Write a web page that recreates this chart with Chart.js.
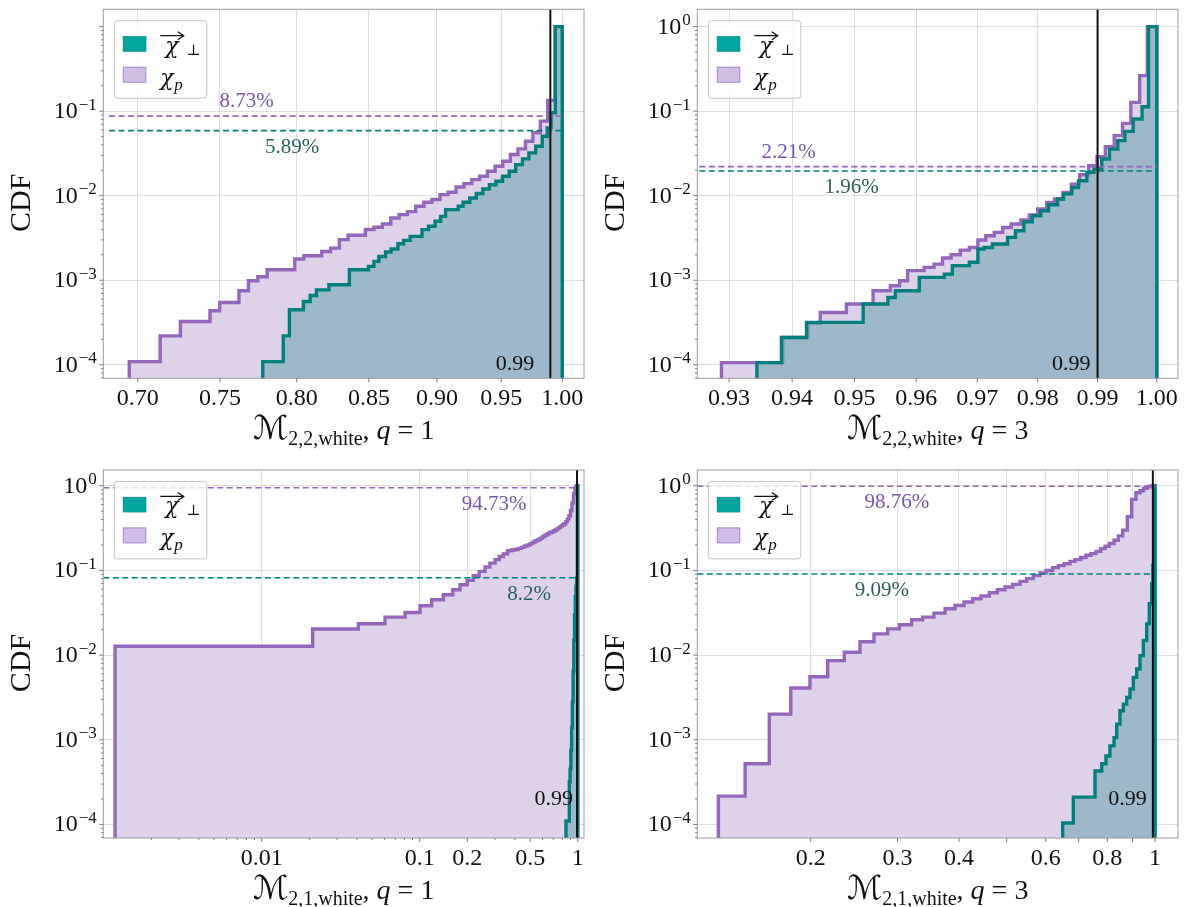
<!DOCTYPE html>
<html>
<head>
<meta charset="utf-8">
<title>Mismatch CDFs</title>
<script src="https://cdn.jsdelivr.net/npm/chart.js@4.4.1/dist/chart.umd.min.js"></script>
<style>
  body { margin: 0; background: #fff; }
  #figure { position: relative; width: 1185px; height: 907px; }
  #figure canvas { position: absolute; left: 0; top: 0; }
</style>
</head>
<body>
<div id="figure">
  <canvas id="m22q1" width="1185" height="907"></canvas>
  <canvas id="m22q3" width="1185" height="907"></canvas>
  <canvas id="m21q1" width="1185" height="907"></canvas>
  <canvas id="m21q3" width="1185" height="907"></canvas>
</div>
<script>
const CUT = 0.99;

// M_{2,2,white}, q = 1  (bin edges where the CDF steps up, last entry = right end)
const edgesPerp22q1 = [0.7775, 0.791, 0.7951, 0.8045, 0.8091, 0.8134, 0.8219, 0.8362, 0.8497, 0.8536, 0.8572, 0.862, 0.866, 0.871, 0.8752, 0.88, 0.8888, 0.8937, 0.8986, 0.9028, 0.9066, 0.9163, 0.92, 0.9252, 0.9303, 0.9354, 0.9406, 0.9458, 0.951, 0.9564, 0.9616, 0.9671, 0.9723, 0.9779, 0.9833, 0.9874, 0.9906, 0.9942, 1.0];
const cdfPerp22q1 = [1.09e-4, 2.2e-4, 4.48e-4, 5.61e-4, 6.6e-4, 7.7e-4, 8.85e-4, 1.33e-3, 1.46e-3, 1.67e-3, 1.91e-3, 2.16e-3, 2.34e-3, 2.7e-3, 2.96e-3, 3.3e-3, 3.97e-3, 4.35e-3, 4.98e-3, 5.7e-3, 6.85e-3, 7.5e-3, 8.35e-3, 9.4e-3, 1.06e-2, 1.2e-2, 1.35e-2, 1.48e-2, 1.7e-2, 1.95e-2, 2.33e-2, 2.73e-2, 3.21e-2, 3.85e-2, 5.06e-2, 6.35e-2, 9.57e-2, 1.0];
const edgesChip22q1 = [0.695, 0.7133, 0.7255, 0.7438, 0.7499, 0.7621, 0.7682, 0.7743, 0.7804, 0.7987, 0.8048, 0.817, 0.8231, 0.8292, 0.8353, 0.8475, 0.8536, 0.8597, 0.8658, 0.8719, 0.878, 0.8841, 0.8902, 0.8963, 0.9024, 0.9085, 0.9146, 0.9207, 0.9268, 0.9329, 0.939, 0.9451, 0.9512, 0.9573, 0.9634, 0.9695, 0.9756, 0.9817, 0.9878, 0.9939, 1.0];
const cdfChip22q1 = [1.09e-4, 2.2e-4, 3.25e-4, 4.35e-4, 5.46e-4, 7.5e-4, 9.86e-4, 1.1e-3, 1.33e-3, 1.78e-3, 1.95e-3, 2.19e-3, 2.4e-3, 3.02e-3, 3.4e-3, 3.98e-3, 4.23e-3, 4.63e-3, 5.45e-3, 5.97e-3, 6.48e-3, 7.49e-3, 8.35e-3, 9.0e-3, 1.03e-2, 1.1e-2, 1.27e-2, 1.39e-2, 1.55e-2, 1.7e-2, 1.95e-2, 2.23e-2, 2.56e-2, 3.07e-2, 3.58e-2, 4.41e-2, 5.55e-2, 7.62e-2, 0.134, 1.0];

// M_{2,2,white}, q = 3
const edgesPerp22q3 = [0.9344, 0.9383, 0.9423, 0.9514, 0.9554, 0.9566, 0.9605, 0.9646, 0.9659, 0.9687, 0.9701, 0.9711, 0.9725, 0.975, 0.9763, 0.9777, 0.9791, 0.9805, 0.9818, 0.9833, 0.9843, 0.9857, 0.9868, 0.9882, 0.9894, 0.9907, 0.992, 0.9934, 0.9946, 0.996, 0.9975, 0.9986, 1.0];
const cdfPerp22q3 = [1.06e-4, 2.1e-4, 3.17e-4, 5.23e-4, 6.26e-4, 7.5e-4, 1.08e-3, 1.18e-3, 1.49e-3, 1.63e-3, 2.34e-3, 2.44e-3, 2.68e-3, 3.21e-3, 3.85e-3, 4.92e-3, 5.8e-3, 6.64e-3, 7.82e-3, 9.14e-3, 1.05e-2, 1.25e-2, 1.5e-2, 1.89e-2, 2.07e-2, 2.72e-2, 3.56e-2, 4.48e-2, 5.77e-2, 8.07e-2, 0.113, 1.0];
const edgesChip22q3 = [0.9288, 0.9385, 0.9425, 0.9445, 0.9487, 0.953, 0.9558, 0.9573, 0.9586, 0.9613, 0.9629, 0.9643, 0.9657, 0.9672, 0.9687, 0.9701, 0.9714, 0.9728, 0.9742, 0.9756, 0.9772, 0.9786, 0.98, 0.9815, 0.9828, 0.9842, 0.9856, 0.987, 0.9885, 0.9899, 0.9913, 0.9928, 0.9942, 0.9956, 0.9971, 0.9984, 1.0];
const cdfChip22q3 = [1.06e-4, 2.1e-4, 3.1e-4, 4.16e-4, 5.23e-4, 7.5e-4, 8.6e-4, 9.86e-4, 1.3e-3, 1.42e-3, 1.55e-3, 1.83e-3, 2.0e-3, 2.27e-3, 2.44e-3, 2.99e-3, 3.36e-3, 3.68e-3, 4.21e-3, 4.62e-3, 5.15e-3, 5.9e-3, 6.95e-3, 8.33e-3, 9.14e-3, 1.09e-2, 1.37e-2, 1.77e-2, 2.27e-2, 2.9e-2, 3.8e-2, 5.13e-2, 7.18e-2, 0.127, 0.263, 1.0];

// M_{2,1,white}, q = 1
const edgesPerp21q1 = [0.843, 0.885, 0.895, 0.905, 0.915, 0.925, 0.935, 0.945, 0.955, 0.965, 0.975, 0.985, 0.995, 1.0];
const cdfPerp21q1 = [1.1e-4, 3.2e-4, 4.5e-4, 7.5e-4, 1.4e-3, 2.8e-3, 6.5e-3, 1.5e-2, 3.0e-2, 4.9e-2, 6.5e-2, 8.2e-2, 1.0];
const edgesChip21q1 = [0.00118, 0.021, 0.0409, 0.0603, 0.0807, 0.1005, 0.119, 0.141, 0.162, 0.18, 0.2, 0.218, 0.238, 0.259, 0.278, 0.3, 0.319, 0.338, 0.36, 0.38, 0.4, 0.42, 0.44, 0.46, 0.48, 0.5, 0.52, 0.54, 0.56, 0.58, 0.6, 0.62, 0.64, 0.66, 0.68, 0.7, 0.72, 0.74, 0.76, 0.78, 0.8, 0.82, 0.84, 0.86, 0.88, 0.9, 0.92, 0.94, 0.96, 0.98, 1.0];
const cdfChip21q1 = [1.27e-2, 2.03e-2, 2.35e-2, 2.81e-2, 3.19e-2, 3.83e-2, 4.51e-2, 5.16e-2, 5.92e-2, 6.78e-2, 7.62e-2, 8.66e-2, 9.75e-2, 0.1096, 0.122, 0.134, 0.146, 0.157, 0.171, 0.174, 0.177, 0.182, 0.187, 0.194, 0.2, 0.207, 0.216, 0.224, 0.232, 0.241, 0.252, 0.262, 0.269, 0.279, 0.284, 0.292, 0.3, 0.311, 0.322, 0.334, 0.344, 0.356, 0.376, 0.404, 0.443, 0.511, 0.625, 0.805, 0.94, 1.0];

// M_{2,1,white}, q = 3
const edgesPerp21q3 = [0.6495, 0.6826, 0.7554, 0.7795, 0.7952, 0.81, 0.8257, 0.8361, 0.849, 0.8624, 0.8761, 0.8897, 0.9036, 0.9179, 0.9322, 0.9469, 0.9619, 0.9737, 0.9847, 0.99, 0.9947, 1.0];
const cdfPerp21q3 = [1.04e-4, 2.1e-4, 4.28e-4, 5.22e-4, 6.44e-4, 8.47e-4, 1.06e-3, 1.53e-3, 2.2e-3, 2.64e-3, 3.16e-3, 3.98e-3, 5.46e-3, 6.86e-3, 9.86e-3, 1.49e-2, 2.34e-2, 4.04e-2, 6.97e-2, 0.115, 1.0];
const edgesChip21q3 = [0.1299, 0.1472, 0.1648, 0.1822, 0.1993, 0.2165, 0.234, 0.2518, 0.2689, 0.2866, 0.3027, 0.3207, 0.3376, 0.3558, 0.3748, 0.3927, 0.4096, 0.4265, 0.4433, 0.4609, 0.4785, 0.496, 0.5142, 0.5319, 0.5488, 0.5662, 0.5841, 0.6007, 0.6197, 0.6365, 0.6535, 0.672, 0.688, 0.7067, 0.7243, 0.7412, 0.759, 0.7759, 0.7916, 0.8077, 0.8257, 0.8424, 0.8597, 0.8786, 0.8969, 0.9149, 0.9322, 0.9477, 0.9651, 0.9825, 1.0];
const cdfChip21q3 = [2.16e-4, 5.22e-4, 2.01e-3, 4.08e-3, 5.56e-3, 8.6e-3, 1.08e-2, 1.44e-2, 1.78e-2, 2.04e-2, 2.28e-2, 2.61e-2, 2.81e-2, 3.13e-2, 3.52e-2, 3.86e-2, 4.23e-2, 4.63e-2, 4.98e-2, 5.46e-2, 5.92e-2, 6.36e-2, 6.85e-2, 7.43e-2, 8.0e-2, 8.67e-2, 9.31e-2, 0.1, 0.108, 0.114, 0.12, 0.128, 0.134, 0.142, 0.151, 0.158, 0.168, 0.181, 0.193, 0.208, 0.227, 0.256, 0.299, 0.43, 0.69, 0.826, 0.873, 0.931, 0.975, 1.0];

// fraction of samples below the 0.99 cut, in percent
const pctPerp = [5.89, 1.96, 8.2, 9.09];
const pctChip = [8.73, 2.21, 94.73, 98.76];

// axis ticks
const ticks22q1 = [0.70, 0.75, 0.80, 0.85, 0.90, 0.95, 1.00];
const tickLabels22q1 = ['0.70', '0.75', '0.80', '0.85', '0.90', '0.95', '1.00'];
const ticks22q3 = [0.93, 0.94, 0.95, 0.96, 0.97, 0.98, 0.99, 1.00];
const tickLabels22q3 = ['0.93', '0.94', '0.95', '0.96', '0.97', '0.98', '0.99', '1.00'];
const ticks21q1 = [0.01, 0.1, 0.2, 0.5, 1];
const tickLabels21q1 = ['0.01', '0.1', '0.2', '0.5', '1'];
const minor21q1 = [0.002, 0.003, 0.004, 0.005, 0.006, 0.007, 0.008, 0.009, 0.02, 0.03, 0.04, 0.05, 0.06, 0.07, 0.08, 0.09, 0.3, 0.4, 0.6, 0.7, 0.8, 0.9];
const ticks21q3 = [0.2, 0.3, 0.4, 0.5, 0.6, 0.7, 0.8, 0.9, 1];
const tickLabels21q3 = ['0.2', '0.3', '0.4', '', '0.6', '', '0.8', '', '1'];

const TEAL = '#00807c';
const TEAL_FILL = 'rgba(114,167,180,0.6)';
const PURPLE = '#9467bd';
const PURPLE_FILL = '#ddd2ea';
const TEAL_TEXT = '#2b5f5f';
const PURPLE_TEXT = '#7b55ad';
const GRID = '#dedede';
const FRAME = '#9c9c9c';
const SERIF = '"Liberation Serif", "DejaVu Serif", serif';
const GREEK = '"DejaVu Serif", serif';
const FLOOR = 1e-7;

// cumulative histogram outline: rise from below the axis, steps, drop at the right end
function stepPoints(edges, cdf) {
  const pts = [{ x: edges[0], y: FLOOR }];
  cdf.forEach((v, i) => pts.push({ x: edges[i], y: v }));
  const end = edges[edges.length - 1];
  pts.push({ x: end, y: cdf[cdf.length - 1] });
  pts.push({ x: end, y: FLOOR });
  return pts;
}

const panels = [
  { id: 'm22q1', sub: '2,2,white', q: 1, area: [103.3, 9.3, 584, 378.3],
    x: [0.6833, 1.0184], y: [-4.16, 0.205], yExp: [-1, -2, -3, -4],
    perp: [edgesPerp22q1, cdfPerp22q1], chip: [edgesChip22q1, cdfChip22q1],
    ticks: ticks22q1, labels: tickLabels22q1, minor: [],
    perpText: [0.393, 22], chipText: [0.298, -9], cutGap: 16, cutY: 8.6e-5 },
  { id: 'm22q3', sub: '2,2,white', q: 3, area: [697.3, 9.3, 1178, 378.3],
    x: [0.92533, 1.0036], y: [-4.16, 0.205], yExp: [0, -1, -2, -3, -4],
    perp: [edgesPerp22q3, cdfPerp22q3], chip: [edgesChip22q3, cdfChip22q3],
    ticks: ticks22q3, labels: tickLabels22q3, minor: [],
    perpText: [0.321, 22], chipText: [0.19, -9], cutGap: 7, cutY: 8.6e-5 },
  { id: 'm21q1', sub: '2,1,white', q: 1, area: [103.3, 470, 584, 838],
    x: [9.94e-4, 1.096], y: [-4.16, 0.186], yExp: [0, -1, -2, -3, -4],
    perp: [edgesPerp21q1, cdfPerp21q1], chip: [edgesChip21q1, cdfChip21q1],
    ticks: ticks21q1, labels: tickLabels21q1, minor: minor21q1,
    perpText: [0.886, 22], chipText: [0.813, 22], cutGap: 4, cutY: 1.7e-4 },
  { id: 'm21q3', sub: '2,1,white', q: 3, area: [697.3, 470, 1178, 838],
    x: [0.1177, 1.1135], y: [-4.16, 0.186], yExp: [0, -1, -2, -3, -4],
    perp: [edgesPerp21q3, cdfPerp21q3], chip: [edgesChip21q3, cdfChip21q3],
    ticks: ticks21q3, labels: tickLabels21q3, minor: [],
    perpText: [0.384, 22], chipText: [0.415, 22], cutGap: 6, cutY: 1.7e-4 },
];

function drawPow(ctx, right, py, exp) {
  const sup = exp < 0 ? '\u2212' + (-exp) : String(exp);
  ctx.font = `17px ${SERIF}`;
  const ws = ctx.measureText(sup).width + 1;
  ctx.font = `24px ${SERIF}`;
  const wb = ctx.measureText('10').width;
  ctx.textAlign = 'left';
  ctx.textBaseline = 'alphabetic';
  ctx.fillText('10', right - ws - wb, py + 7);
  ctx.font = `17px ${SERIF}`;
  ctx.fillText(sup, right - ws + 1, py - 1.5);
}

function drawXTitle(ctx, cx, base, sub, q) {
  const parts = [
    { t: '\u2133', f: `33px "DejaVu Serif", "DejaVu Sans", serif`, dy: 0 },
    { t: sub, f: `20px ${SERIF}`, dy: 6 },
    { t: ', ', f: `28px ${SERIF}`, dy: 0 },
    { t: 'q', f: `italic 28px ${SERIF}`, dy: 0 },
    { t: ' = ' + q, f: `28px ${SERIF}`, dy: 0 },
  ];
  let total = 0;
  parts.forEach(p => { ctx.font = p.f; p.w = ctx.measureText(p.t).width; total += p.w; });
  let x = cx - total / 2;
  ctx.textAlign = 'left';
  ctx.textBaseline = 'alphabetic';
  parts.forEach(p => { ctx.font = p.f; ctx.fillText(p.t, x, base + p.dy); x += p.w; });
}

function drawLegend(ctx, bx, by) {
  ctx.save();
  ctx.fillStyle = 'rgba(255,255,255,0.8)';
  ctx.strokeStyle = '#c4c4c4';
  ctx.lineWidth = 1;
  ctx.beginPath();
  ctx.roundRect(bx, by, 92.5, 77.5, 3);
  ctx.fill();
  ctx.stroke();

  ctx.fillStyle = '#00a59f';
  ctx.fillRect(bx + 9, by + 16, 22.5, 14.5);
  ctx.strokeStyle = '#00918c';
  ctx.strokeRect(bx + 9, by + 16, 22.5, 14.5);
  ctx.fillStyle = '#cfbde3';
  ctx.fillRect(bx + 9, by + 46.5, 22.5, 15);
  ctx.strokeStyle = '#a685cf';
  ctx.strokeRect(bx + 9, by + 46.5, 22.5, 15);

  ctx.fillStyle = '#111';
  ctx.textAlign = 'left';
  ctx.textBaseline = 'alphabetic';
  ctx.font = `italic 22px ${GREEK}`;
  ctx.fillText('\u03c7', bx + 51, by + 32);
  // vector arrow over chi
  ctx.strokeStyle = '#111';
  ctx.lineWidth = 1.2;
  ctx.beginPath();
  ctx.moveTo(bx + 46, by + 15);
  ctx.lineTo(bx + 69, by + 15);
  ctx.moveTo(bx + 63.5, by + 11);
  ctx.lineTo(bx + 69.5, by + 15);
  ctx.lineTo(bx + 63.5, by + 19);
  ctx.stroke();
  ctx.font = `15px ${GREEK}`;
  ctx.fillText('\u22a5', bx + 72, by + 34);

  ctx.font = `italic 22px ${GREEK}`;
  ctx.fillText('\u03c7', bx + 46, by + 64);
  ctx.font = `italic 17px ${SERIF}`;
  ctx.fillText('p', bx + 60, by + 69);
  ctx.restore();
}

function decorate(chart, p) {
  const { ctx, chartArea: a } = chart;
  const xs = chart.scales.x;
  const ys = chart.scales.y;
  ctx.save();

  ctx.strokeStyle = FRAME;
  ctx.lineWidth = 1;
  ctx.strokeRect(a.left, a.top, a.right - a.left, a.bottom - a.top);

  // tick marks
  ctx.strokeStyle = '#7a7a7a';
  ctx.beginPath();
  p.ticks.forEach(v => {
    const px = xs.getPixelForValue(v);
    ctx.moveTo(px, a.bottom);
    ctx.lineTo(px, a.bottom + 4);
  });
  p.minor.forEach(v => {
    const px = xs.getPixelForValue(v);
    ctx.moveTo(px, a.bottom);
    ctx.lineTo(px, a.bottom + 2.2);
  });
  for (let e = -5; e <= 0; e++) {
    for (let m = 1; m < 10; m++) {
      const v = m * Math.pow(10, e);
      if (v < ys.min || v > ys.max) continue;
      const py = ys.getPixelForValue(v);
      ctx.moveTo(a.left, py);
      ctx.lineTo(a.left - (m === 1 ? 4 : 2.2), py);
    }
  }
  ctx.stroke();

  // tick labels
  ctx.fillStyle = '#111';
  ctx.font = `24px ${SERIF}`;
  ctx.textAlign = 'center';
  ctx.textBaseline = 'alphabetic';
  p.ticks.forEach((v, i) => {
    if (p.labels[i]) ctx.fillText(p.labels[i], xs.getPixelForValue(v), a.bottom + 27);
  });
  p.yExp.forEach(e => drawPow(ctx, a.left - 6.5, ys.getPixelForValue(Math.pow(10, e)), e));

  // axis titles
  ctx.save();
  ctx.translate(a.left - 81, (a.top + a.bottom) / 2 + 9);
  ctx.rotate(-Math.PI / 2);
  ctx.font = `30px ${SERIF}`;
  ctx.textAlign = 'center';
  ctx.textBaseline = 'middle';
  ctx.fillText('CDF', 0, 0);
  ctx.restore();
  drawXTitle(ctx, (a.left + a.right) / 2, a.bottom + 61, p.sub, p.q);

  // percentage annotations next to the dashed levels
  ctx.font = `21px ${SERIF}`;
  ctx.textAlign = 'center';
  ctx.textBaseline = 'alphabetic';
  const w = a.right - a.left;
  ctx.fillStyle = PURPLE_TEXT;
  ctx.fillText(p.chipPct + '%', a.left + p.chipText[0] * w, ys.getPixelForValue(p.chipPct / 100) + p.chipText[1]);
  ctx.fillStyle = TEAL_TEXT;
  ctx.fillText(p.perpPct + '%', a.left + p.perpText[0] * w, ys.getPixelForValue(p.perpPct / 100) + p.perpText[1]);

  ctx.fillStyle = '#111';
  ctx.font = `22px ${SERIF}`;
  ctx.textAlign = 'right';
  ctx.fillText(String(CUT), xs.getPixelForValue(CUT) - p.cutGap, ys.getPixelForValue(p.cutY));

  drawLegend(ctx, a.left + 11, a.top + 11.4);
  ctx.restore();
}

panels.forEach((p, k) => {
  p.perpPct = pctPerp[k];
  p.chipPct = pctChip[k];
  const [l, t, r, b] = p.area;
  new Chart(document.getElementById(p.id), {
    type: 'line',
    data: {
      datasets: [
        { data: [{ x: CUT, y: FLOOR }, { x: CUT, y: 10 }], borderColor: '#111', borderWidth: 2, order: 0, clip: 0 },
        { data: [{ x: p.x[0], y: p.chipPct / 100 }, { x: 1, y: p.chipPct / 100 }], borderColor: PURPLE, borderWidth: 1.6, borderDash: [6, 3.5], order: 1, clip: 0 },
        { data: [{ x: p.x[0], y: p.perpPct / 100 }, { x: 1, y: p.perpPct / 100 }], borderColor: TEAL, borderWidth: 1.6, borderDash: [6, 3.5], order: 1, clip: 0 },
        { data: stepPoints(p.perp[0], p.perp[1]), stepped: 'before', fill: 'start', borderColor: TEAL, backgroundColor: TEAL_FILL, borderWidth: 3.4, order: 2, clip: 0 },
        { data: stepPoints(p.chip[0], p.chip[1]), stepped: 'before', fill: 'start', borderColor: PURPLE, backgroundColor: PURPLE_FILL, borderWidth: 3.4, order: 3, clip: 0 },
      ],
    },
    options: {
      responsive: false,
      animation: false,
      events: [],
      layout: { padding: { left: l, top: t, right: 1185 - r, bottom: 907 - b } },
      elements: { point: { radius: 0 }, line: { tension: 0, borderJoinStyle: 'miter', borderCapStyle: 'butt' } },
      plugins: { legend: { display: false }, tooltip: { enabled: false } },
      scales: {
        x: {
          type: 'logarithmic', min: p.x[0], max: p.x[1],
          afterBuildTicks: s => { s.ticks = p.ticks.map(v => ({ value: v })); },
          grid: { color: GRID, lineWidth: 1, drawTicks: false },
          border: { display: false },
          ticks: { display: false },
        },
        y: {
          type: 'logarithmic', min: Math.pow(10, p.y[0]), max: Math.pow(10, p.y[1]),
          afterBuildTicks: s => { s.ticks = p.yExp.map(e => ({ value: Math.pow(10, e) })); },
          grid: { color: GRID, lineWidth: 1, drawTicks: false },
          border: { display: false },
          ticks: { display: false },
        },
      },
    },
    plugins: [{ id: 'decor', afterDraw: chart => decorate(chart, p) }],
  });
});
</script>
</body>
</html>
